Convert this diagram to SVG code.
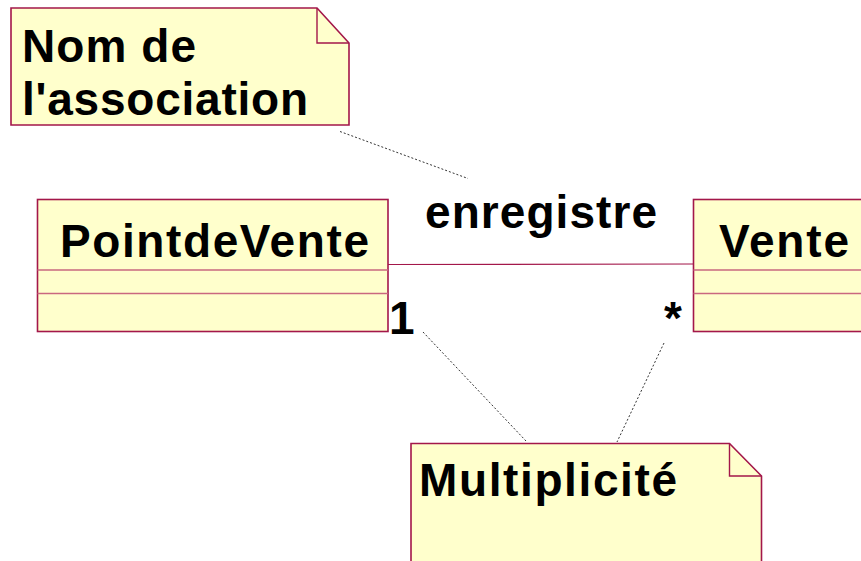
<svg xmlns="http://www.w3.org/2000/svg" width="861" height="561" viewBox="0 0 861 561">
  <style>
    .box { fill: #FFFFCC; stroke: #A3174A; stroke-width: 1.6; }
    .sep { stroke: #C9687F; stroke-width: 1.4; }
    .fold { fill: none; stroke: #A3174A; stroke-width: 1.4; }
    .assoc { stroke: #A3174A; stroke-width: 1.2; fill: none; }
    .anchor { stroke: #333; stroke-width: 1; stroke-dasharray: 2 2; fill: none; }
    .t { font-family: "Liberation Sans", Arial, sans-serif; font-weight: bold; font-size: 46px; fill: #000; }
  </style>
  <rect width="861" height="561" fill="#FFFFFF"/>

  <g id="connectors">
    <line class="assoc" x1="388" y1="264.5" x2="693" y2="264"/>
    <line class="anchor" x1="340" y1="131.5" x2="468" y2="178.5"/>
    <line class="anchor" x1="423" y1="332" x2="526" y2="441"/>
    <line class="anchor" x1="664" y1="343" x2="617" y2="442"/>
  </g>

  <g id="note-association">
    <path class="box" d="M11 8 H317 L349 43 V125 H11 Z"/>
    <path class="fold" d="M317 8 V43 H349"/>
    <text class="t" x="22" y="62" textLength="174" lengthAdjust="spacing">Nom de</text>
    <text class="t" x="22" y="115" textLength="286" lengthAdjust="spacing">l'association</text>
  </g>

  <g id="class-pointdevente">
    <rect class="box" x="37.5" y="199.5" width="350.5" height="132"/>
    <line class="sep" x1="37.5" y1="270" x2="388" y2="270"/>
    <line class="sep" x1="37.5" y1="293.5" x2="388" y2="293.5"/>
    <text class="t" x="60" y="257" textLength="309" lengthAdjust="spacing">PointdeVente</text>
  </g>

  <g id="class-vente">
    <rect class="box" x="693.5" y="199.5" width="180" height="132"/>
    <line class="sep" x1="693.5" y1="270" x2="861" y2="270"/>
    <line class="sep" x1="693.5" y1="293.5" x2="861" y2="293.5"/>
    <text class="t" x="719" y="257" textLength="130" lengthAdjust="spacing">Vente</text>
  </g>

  <g id="association-labels">
    <text class="t" x="425" y="227.5" textLength="232" lengthAdjust="spacing">enregistre</text>
    <text class="t" x="389" y="333.5">1</text>
    <text class="t" x="664" y="333.5">*</text>
  </g>

  <g id="note-multiplicite">
    <path class="box" d="M411 443.5 H729.5 L761.5 476 V570 H411 Z"/>
    <path class="fold" d="M729.5 443.5 V476 H761.5"/>
    <text class="t" x="419" y="496" textLength="258" lengthAdjust="spacing">Multiplicité</text>
  </g>
</svg>
